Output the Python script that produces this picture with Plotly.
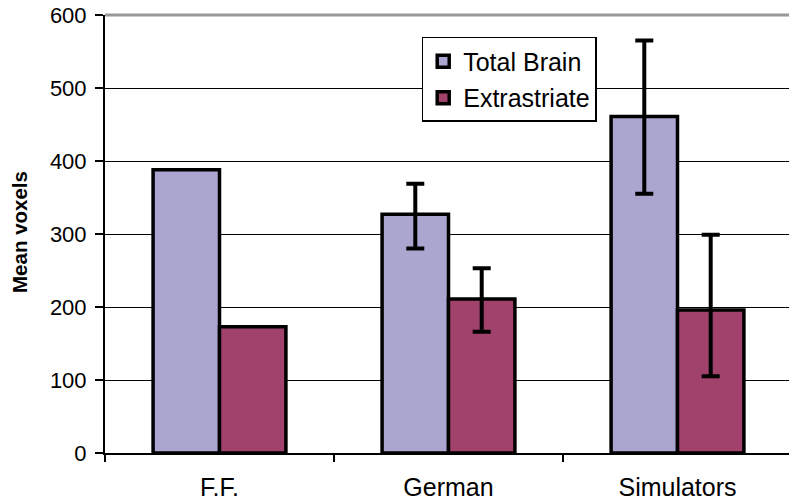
import plotly.graph_objects as go

categories = ["F.F.", "German", "Simulators"]
total_brain = [388, 327, 461]
total_err_plus = [None, 42, 104]
total_err_minus = [None, 47, 106]
extrastriate = [173, 211, 196]
extra_err_plus = [None, 42, 103]
extra_err_minus = [None, 45, 91]
y_ticks = [0, 100, 200, 300, 400, 500, 600]

FONT = "Liberation Sans, Arial, sans-serif"
series = [
    ("Total Brain", total_brain, total_err_plus, total_err_minus, "#ABA6CF", "a"),
    ("Extrastriate", extrastriate, extra_err_plus, extra_err_minus, "#A0426C", "b"),
]

fig = go.Figure()
for name, vals, ep, em, color, grp in series:
    no_err = [i for i, e in enumerate(ep) if e is None]
    with_err = [i for i, e in enumerate(ep) if e is not None]
    fig.add_trace(go.Bar(
        name=name, x=[categories[i] for i in no_err], y=[vals[i] for i in no_err],
        legendgroup=grp, offsetgroup=grp, showlegend=True,
        marker=dict(color=color, line=dict(color="black", width=3.5)),
    ))
    fig.add_trace(go.Bar(
        name=name, x=[categories[i] for i in with_err], y=[vals[i] for i in with_err],
        legendgroup=grp, offsetgroup=grp, showlegend=False,
        marker=dict(color=color, line=dict(color="black", width=3.5)),
        error_y=dict(type="data", array=[ep[i] for i in with_err],
                     arrayminus=[em[i] for i in with_err],
                     symmetric=False, color="black", thickness=4, width=9),
    ))

# the page body adds an 8px offset, so the figure is sized/margined to compensate
fig.update_layout(
    width=789, height=493,
    margin=dict(l=97, r=5, t=7, b=48),
    paper_bgcolor="white", plot_bgcolor="white",
    barmode="group", bargap=0.42, bargroupgap=0,
    font=dict(family=FONT, color="black"),
    showlegend=True,
    legend=dict(x=0.461, y=0.95, xanchor="left", yanchor="top",
                bgcolor="white", bordercolor="black", borderwidth=1.5,
                font=dict(size=25, family=FONT), tracegroupgap=1),
    shapes=[
        dict(type="line", xref="paper", yref="paper", x0=0, x1=1, y0=1, y1=1,
             line=dict(color="#999999", width=3), layer="above"),
        dict(type="line", xref="paper", yref="paper", x0=1, x1=1, y0=0, y1=1,
             line=dict(color="#999999", width=3), layer="above"),
    ],
    annotations=[
        dict(text="<b>Mean voxels</b>", xref="paper", yref="paper",
             x=-0.1235, y=0.505, xanchor="center", yanchor="middle",
             textangle=-90, showarrow=False, font=dict(size=20.5, family=FONT)),
    ],
)
fig.update_xaxes(
    type="category", categoryorder="array", categoryarray=categories,
    showline=True, linecolor="black", linewidth=2, automargin=False,
    ticks="outside", tickson="boundaries", ticklen=7, tickwidth=2, tickcolor="black",
    tickfont=dict(size=25, family=FONT), ticklabelstandoff=11,
    showgrid=False, zeroline=False,
)
fig.update_yaxes(
    range=[0, 600], tickvals=y_ticks, showline=True, linecolor="black", linewidth=2,
    automargin=False, ticklabeloverflow="allow",
    ticks="outside", ticklen=8, tickwidth=1.5, tickcolor="black",
    tickfont=dict(size=22, family=FONT), ticklabelstandoff=4,
    showgrid=True, gridcolor="black", gridwidth=1, zeroline=False,
)

fig.write_html("out.html")
